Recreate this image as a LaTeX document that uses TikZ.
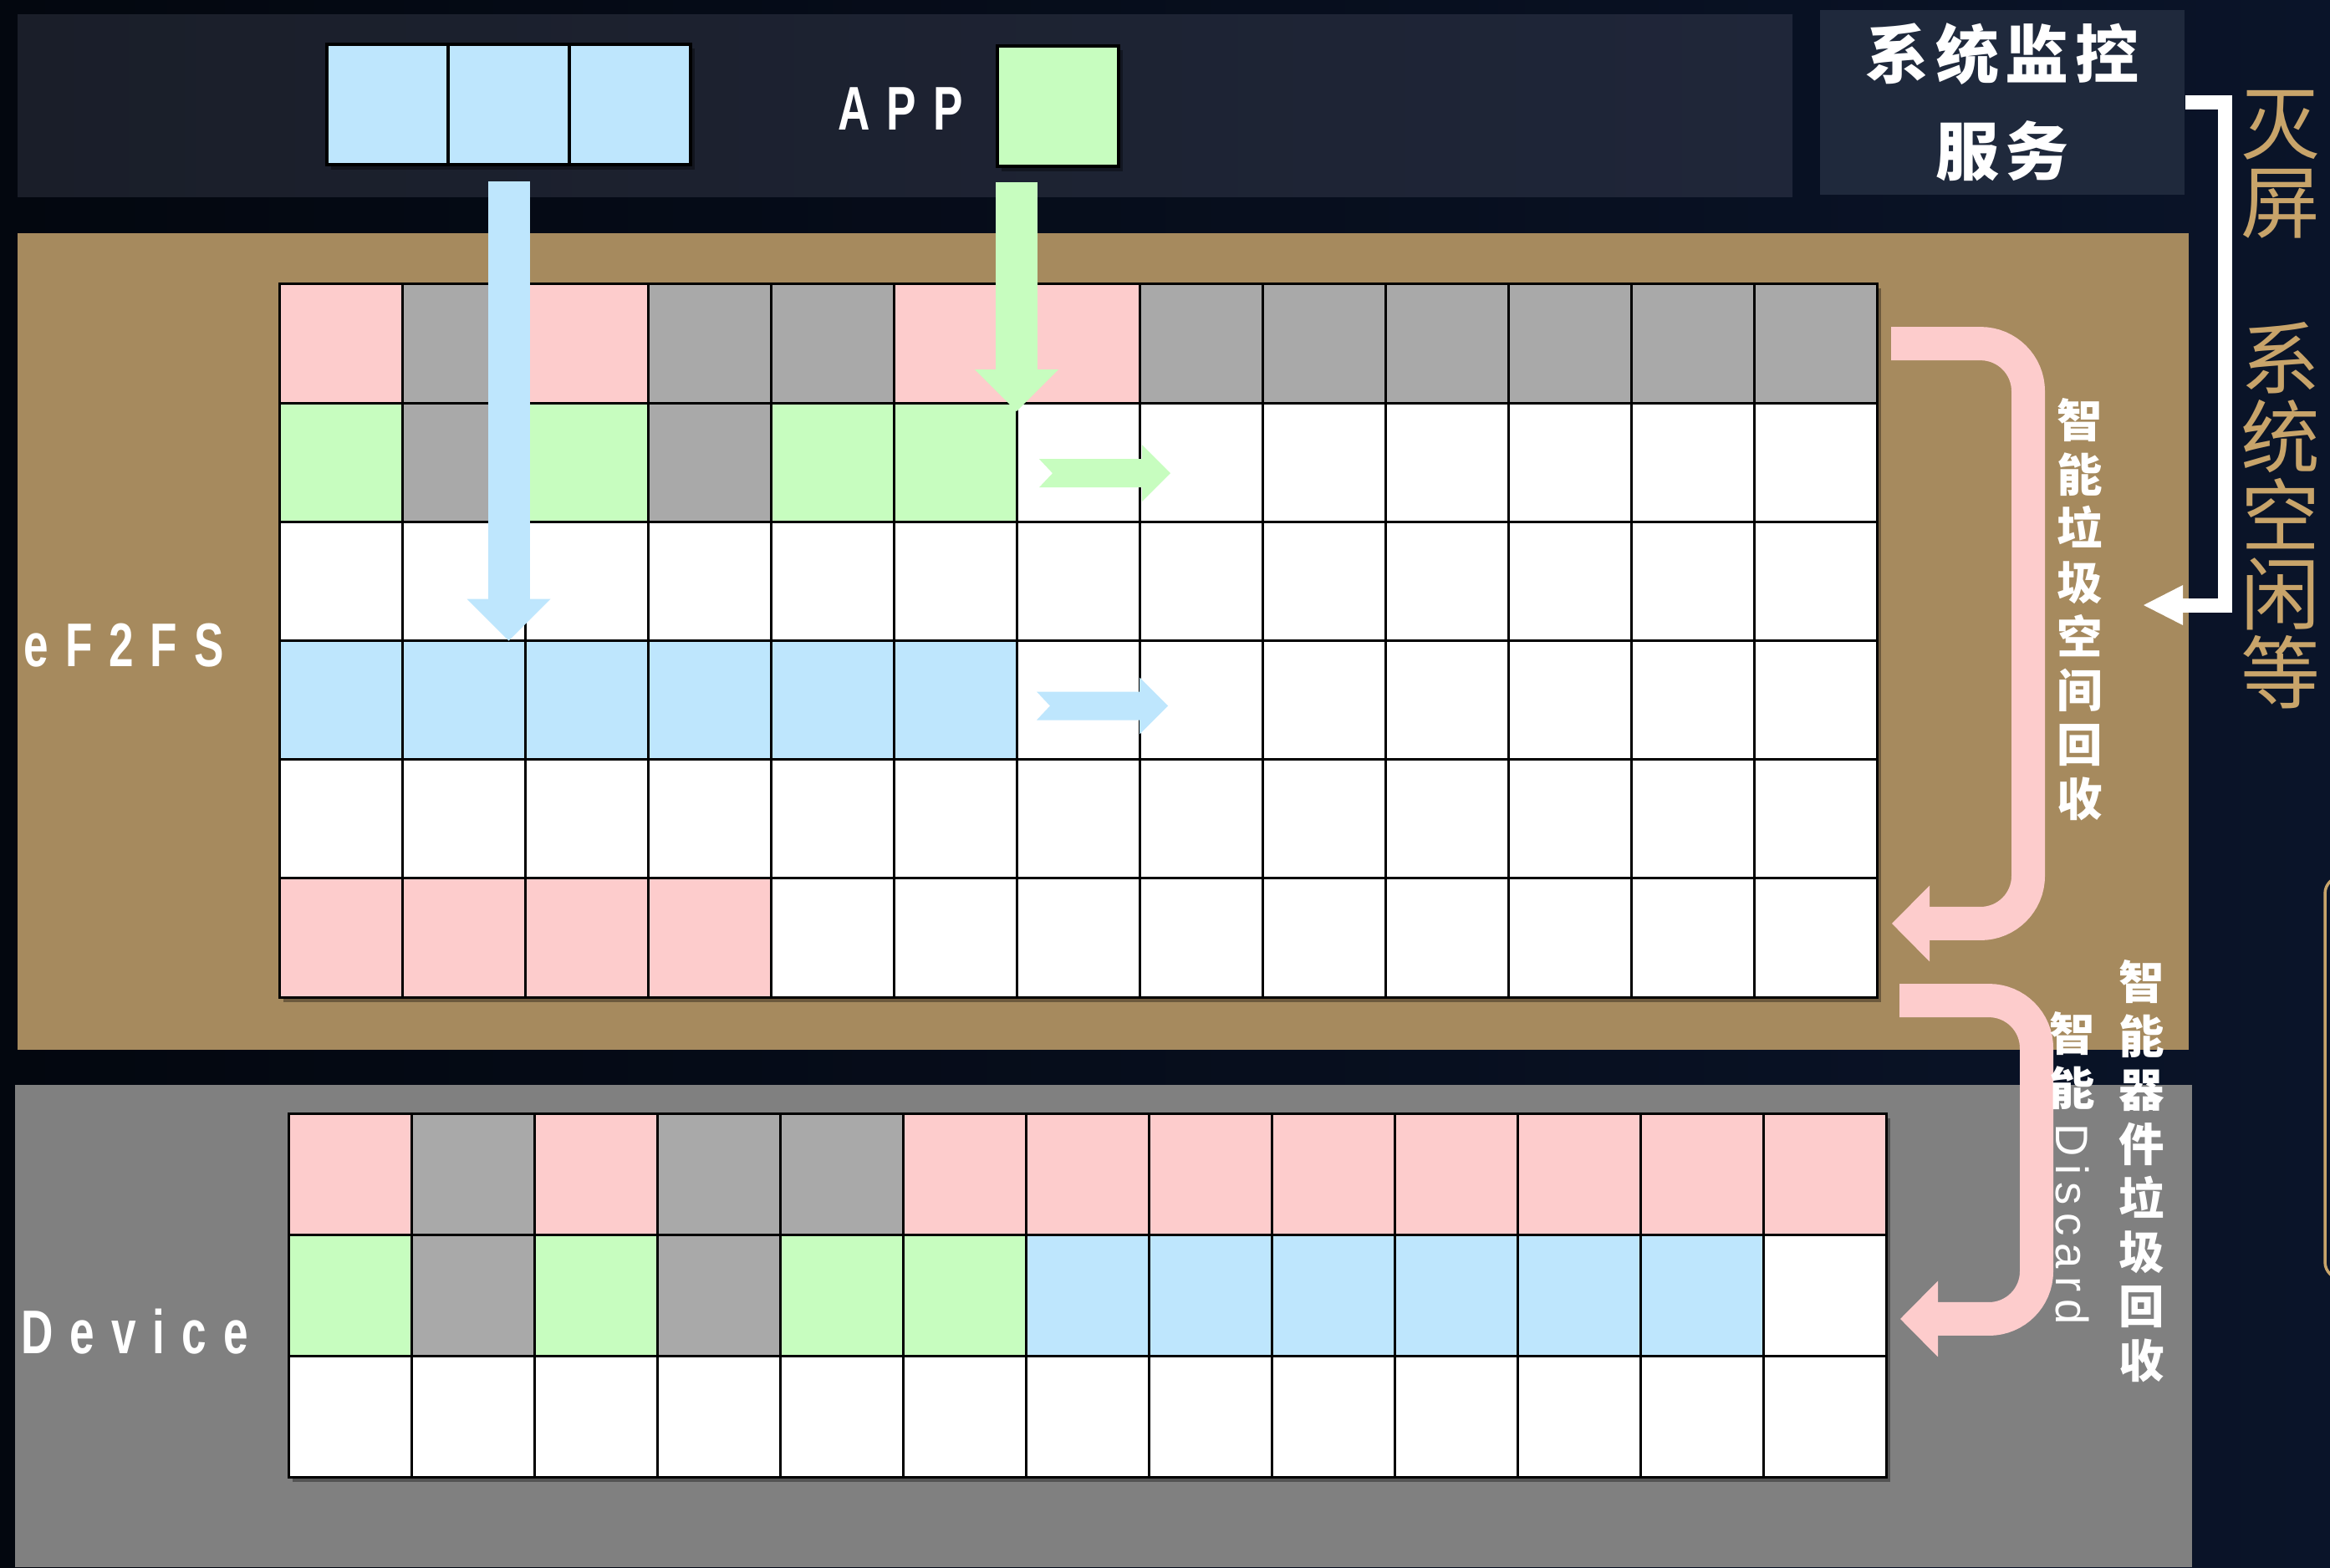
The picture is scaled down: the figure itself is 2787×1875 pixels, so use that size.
\documentclass[tikz,border=0pt]{standalone}
\usepackage{fontspec}
\setmainfont{Liberation Sans}
\newfontfamily\cjk{Noto Sans CJK SC}
\newfontfamily\cjkwide{Noto Sans CJK SC}[LetterSpace=10]
\newfontfamily\labfont{Liberation Sans}[LetterSpace=27,FakeStretch=0.72]
\newfontfamily\discfont{Liberation Sans}[LetterSpace=17]
\usepackage{tikz}
\usetikzlibrary{arrows.meta,positioning,calc}
\definecolor{bgleft}{HTML}{03070F}
\definecolor{bgright}{HTML}{0A1429}
\definecolor{bandleft}{HTML}{1A1E29}
\definecolor{bandright}{HTML}{1F2639}
\definecolor{monfill}{HTML}{1F293C}
\definecolor{fsbrown}{HTML}{A68A5E}
\definecolor{devgray}{HTML}{808080}
\definecolor{pk}{HTML}{FDCCCC}
\definecolor{gy}{HTML}{A9A9A9}
\definecolor{gn}{HTML}{C7FDBF}
\definecolor{bl}{HTML}{BEE6FD}
\definecolor{wh}{HTML}{FFFFFF}
\definecolor{gold}{HTML}{C8A46A}
\tikzset{
  cell/.style={rectangle, draw=black, line width=0.3mm, inner sep=0pt, outer sep=0pt, minimum width=14.7mm},
  fscell/.style={cell, minimum height=14.22mm},
  devcell/.style={cell, minimum height=14.47mm},
  appcell/.style={cell, line width=0.35mm, minimum width=14.5mm, minimum height=14.4mm},
  shadow/.style={fill=black, opacity=0.35},
  fatarrow/.style={line width=5mm, -{Triangle[length=5mm,width=10mm,line width=0pt]}},
  gcarrow/.style={draw=pk, line width=4mm, rounded corners=5.7mm, -{Triangle[length=4.5mm,width=9.1mm,line width=0pt]}},
  layername/.style={text=white, font=\labfont\bfseries\fontsize{21}{25}\selectfont, inner sep=0pt, anchor=west},
  vtext/.style={text=white, align=center, inner sep=0pt, font=\cjk\bfseries\fontsize{15.5}{18.4}\selectfont}
}

\begin{document}
\begin{tikzpicture}[x=0.1mm, y=-0.1mm]
  \useasboundingbox (0,0) rectangle (2787,1875);
  \fill[left color=bgleft, right color=bgright] (0,0) rectangle (2787,1875);

  % layers
  \fill[left color=bandleft, right color=bandright] (21,18) rectangle (2144,236);
  \fill[fsbrown] (21,279) rectangle (2618,1256);
  \fill[devgray] (18,1298) rectangle (2622,1875);
  \draw[gold, line width=0.35mm, rounded corners=2mm] (2800,1049) -- (2781,1049) -- (2781,1530) -- (2800,1530);
  \fill[shadow] (396,58) rectangle (831,203);
  \fill[shadow] (1198,60) rectangle (1343,205);
  \fill[shadow] (339,345) rectangle (2250,1199);
  \fill[shadow] (350,1338) rectangle (2261,1773);

  % app
  \node[appcell, fill=bl] (blk1) at (463.5,125) {};
  \node[appcell, fill=bl, right=0pt of blk1] (blk2) {};
  \node[appcell, fill=bl, right=0pt of blk2] (blk3) {};
  \node[appcell, fill=gn] (appgreen) at (1265.5,127) {};
  \node[layername] (applabel) at (1002,130) {APP};

  % monitor service
  \node[rectangle, fill=monfill, minimum width=43.6mm, minimum height=22.1mm, text=white, align=center,
        font=\cjkwide\bfseries\fontsize{21.6}{33}\selectfont] (mon) at (2395,122.5) {系统监控\\服务};

  % eF2FS blocks
  \foreach \row/\cols in {
      0/{pk,gy,pk,gy,gy,pk,pk,gy,gy,gy,gy,gy,gy},
      1/{gn,gy,gn,gy,gn,gn,wh,wh,wh,wh,wh,wh,wh},
      2/{wh,wh,wh,wh,wh,wh,wh,wh,wh,wh,wh,wh,wh},
      3/{bl,bl,bl,bl,bl,bl,wh,wh,wh,wh,wh,wh,wh},
      4/{wh,wh,wh,wh,wh,wh,wh,wh,wh,wh,wh,wh,wh},
      5/{pk,pk,pk,pk,wh,wh,wh,wh,wh,wh,wh,wh,wh}} {
    \foreach \cc [count=\c from 0] in \cols {
      \node[fscell, fill=\cc] (fs-\row-\c) at ({407.5+147*\c},{411.1+142.17*\row}) {};
    }
  }
  \node[layername] (fslabel) at (28,772) {eF2FS};

  % device blocks
  \foreach \row/\cols in {
      0/{pk,gy,pk,gy,gy,pk,pk,pk,pk,pk,pk,pk,pk},
      1/{gn,gy,gn,gy,gn,gn,bl,bl,bl,bl,bl,bl,wh},
      2/{wh,wh,wh,wh,wh,wh,wh,wh,wh,wh,wh,wh,wh}} {
    \foreach \cc [count=\c from 0] in \cols {
      \node[devcell, fill=\cc] (dv-\row-\c) at ({418.5+147*\c},{1405.3+144.67*\row}) {};
    }
  }
  \node[layername] (devlabel) at (25,1593) {Device};

  % writes
  \draw[fatarrow, draw=bl] ([yshift=-2mm]blk2.south) -- (blk2.south |- fs-3-0.north);
  \draw[fatarrow, draw=gn] ($(fs-1-6.north west |- appgreen.south)+(0,19)$) -- ($(fs-1-6.north west)+(0,10)$);
  \fill[gn] ($(fs-1-6.north west)+(27,67)$) -- ++(123,0) -- ++(0,-17) -- ++(34,34) -- ++(-34,34)
    -- ++(0,-17) -- ++(-123,0) -- ++(16,-17) -- cycle;
  \fill[bl] ($(fs-3-6.north west)+(24,61)$) -- ++(123,0) -- ++(0,-17) -- ++(34,34) -- ++(-34,34)
    -- ++(0,-17) -- ++(-123,0) -- ++(16,-17) -- cycle;

  % garbage collection
  \coordinate (gcin) at (2564,724);
  \draw[white, line width=1.7mm, -{Triangle[length=4.7mm,width=4.8mm,line width=0pt]}] (mon.east) -- ++(48,0) |- (gcin);
  \draw[gcarrow] ([xshift=1.7mm]fs-0-12.east) -- ++(164,0) |- ([xshift=1.8mm,yshift=1.7mm]fs-5-12.east);
  \draw[gcarrow] ([xshift=2.7mm,yshift=-0.4mm]fs-5-12.south east) -- ++(164,0) |- ([xshift=1.7mm,yshift=-2.8mm]dv-1-12.east);

  \node[vtext] (gclabel) at (2488,729) {智\\能\\垃\\圾\\空\\间\\回\\收};
  \node[vtext] (devgclabel) at (2562,1401) {智\\能\\器\\件\\垃\\圾\\回\\收};
  \node[vtext, anchor=north] (discardlabel) at (2479,1210) {智\\能\\[-12pt]\rotatebox{-90}{\discfont\mdseries Discard}};
  \node[text=gold, align=center, inner sep=0pt, font=\cjk\fontsize{27}{26.7}\selectfont] (idlelabel) at (2728,478)
    {灭\\屏\\[26.7pt]系\\统\\空\\闲\\等};
\end{tikzpicture}
\end{document}
